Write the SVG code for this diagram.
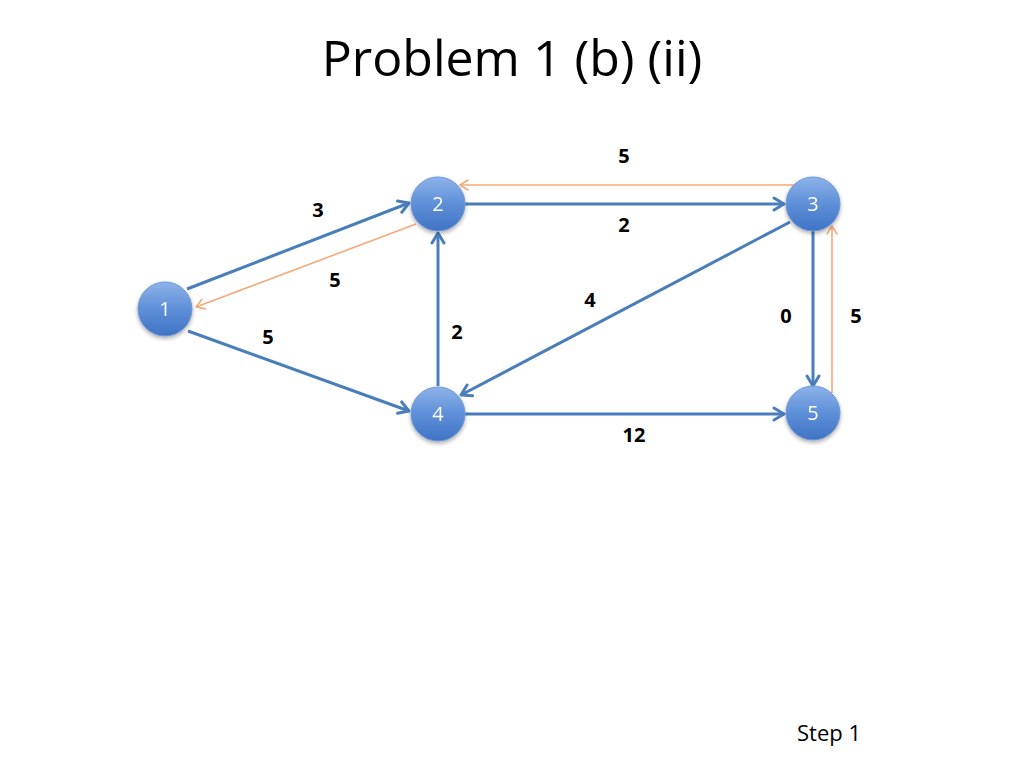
<svg xmlns="http://www.w3.org/2000/svg" width="1024" height="768" viewBox="0 0 1024 768">
<style>
.title{font-family:"Open Sans","Liberation Sans",sans-serif;font-size:50px;fill:#000}
.lbl{font-family:"Open Sans","Liberation Sans",sans-serif;font-weight:bold;font-size:20px;fill:#000;text-anchor:middle}
.ntxt{font-family:"Open Sans","Liberation Sans",sans-serif;font-size:20px;fill:#fff;text-anchor:middle}
.node{fill:url(#ng);stroke:#6d98d6;stroke-width:1}
.blue{stroke:#4a7ebb;stroke-width:3;fill:none;marker-end:url(#ab)}
.orange{stroke:#f4a978;stroke-width:1.6;fill:none;marker-end:url(#ao)}
.step{font-family:"Open Sans","Liberation Sans",sans-serif;font-size:22px;fill:#000}
</style>
<defs>
<linearGradient id="ng" x1="0" y1="0" x2="0" y2="1">
<stop offset="0" stop-color="#8db3ea"/>
<stop offset="0.5" stop-color="#5e8fd8"/>
<stop offset="1" stop-color="#3f73c4"/>
</linearGradient>
<filter id="sh" x="-30%" y="-30%" width="160%" height="170%">
<feGaussianBlur in="SourceAlpha" stdDeviation="2"/>
<feOffset dx="0" dy="2" result="o"/>
<feComponentTransfer><feFuncA type="linear" slope="0.35"/></feComponentTransfer>
<feMerge><feMergeNode/><feMergeNode in="SourceGraphic"/></feMerge>
</filter>
<marker id="ab" markerUnits="userSpaceOnUse" viewBox="-12 -8 14 16" markerWidth="14" markerHeight="16" refX="0" refY="0" orient="auto">
<path d="M-10,-6 L0,0 L-10,6" fill="none" stroke="#4a7ebb" stroke-width="3" stroke-linecap="round" stroke-linejoin="round"/>
</marker>
<marker id="ao" markerUnits="userSpaceOnUse" viewBox="-12 -8 14 16" markerWidth="14" markerHeight="16" refX="0" refY="0" orient="auto">
<path d="M-8,-5 L0,0 L-8,5" fill="none" stroke="#f4a978" stroke-width="1.6" stroke-linecap="round" stroke-linejoin="round"/>
</marker>
</defs>
<rect width="1024" height="768" fill="#fff"/>
<text class="title" x="512" y="76" text-anchor="middle">Problem 1 (b) (ii)</text>
<g id="connectors">
<line class="blue" x1="187" y1="289" x2="409" y2="203"/>
<line class="orange" x1="416" y1="224" x2="196" y2="307"/>
<line class="blue" x1="188" y1="331" x2="409" y2="411"/>
<line class="blue" x1="465" y1="204" x2="784" y2="204"/>
<polyline class="orange" points="795,186 793,185 460,185"/>
<line class="blue" x1="790" y1="222" x2="461" y2="395"/>
<line class="blue" x1="438" y1="386" x2="438" y2="233"/>
<line class="blue" x1="813" y1="231" x2="813" y2="386"/>
<line class="orange" x1="832" y1="393" x2="832" y2="226"/>
<line class="blue" x1="465" y1="414" x2="784" y2="414"/>
</g>
<g id="edge-labels">
<text class="lbl" x="318" y="217">3</text>
<text class="lbl" x="335" y="287">5</text>
<text class="lbl" x="268" y="344">5</text>
<text class="lbl" x="457" y="339">2</text>
<text class="lbl" x="624" y="163">5</text>
<text class="lbl" x="624" y="232">2</text>
<text class="lbl" x="590" y="307">4</text>
<text class="lbl" x="786" y="323">0</text>
<text class="lbl" x="856" y="323">5</text>
<text class="lbl" x="634" y="442">12</text>
</g>
<g id="node1" filter="url(#sh)"><circle class="node" cx="165" cy="309" r="27"/><text class="ntxt" x="165" y="316">1</text></g>
<g id="node2" filter="url(#sh)"><circle class="node" cx="438" cy="204" r="27"/><text class="ntxt" x="438" y="211">2</text></g>
<g id="node3" filter="url(#sh)"><circle class="node" cx="813" cy="204" r="27"/><text class="ntxt" x="813" y="211">3</text></g>
<g id="node4" filter="url(#sh)"><circle class="node" cx="438" cy="414" r="27"/><text class="ntxt" x="438" y="421">4</text></g>
<g id="node5" filter="url(#sh)"><circle class="node" cx="813" cy="413" r="27"/><text class="ntxt" x="813" y="420">5</text></g>
<text class="step" x="797" y="741">Step 1</text>
</svg>
